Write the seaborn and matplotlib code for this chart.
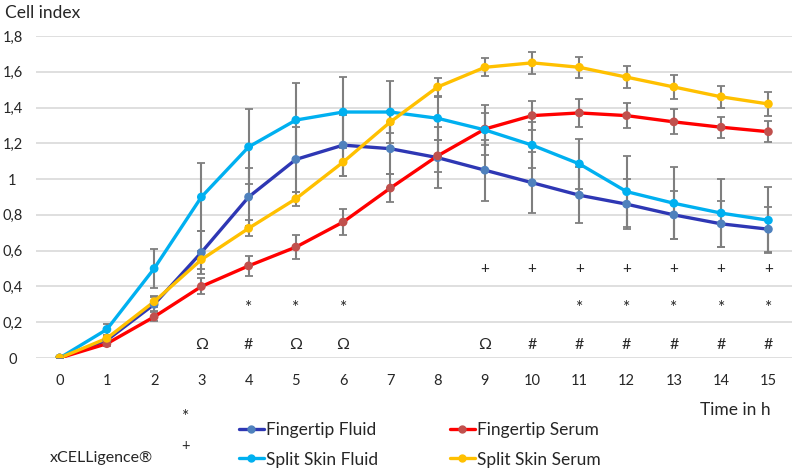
import numpy as np
import pandas as pd
import seaborn as sns
import matplotlib.pyplot as plt
from matplotlib.lines import Line2D

# values
hours = list(range(16))
series_names = ["Fingertip Fluid", "Fingertip Serum", "Split Skin Fluid", "Split Skin Serum"]

fingertip_fluid = [0, 0.10, 0.30, 0.59, 0.90, 1.11, 1.19, 1.17, 1.12, 1.05, 0.98, 0.91, 0.86, 0.80, 0.75, 0.72]
fingertip_serum = [0, 0.08, 0.23, 0.40, 0.515, 0.62, 0.76, 0.95, 1.13, 1.28, 1.355, 1.37, 1.355, 1.32, 1.29, 1.265]
split_skin_fluid = [0, 0.16, 0.50, 0.90, 1.18, 1.33, 1.375, 1.375, 1.34, 1.275, 1.19, 1.085, 0.93, 0.865, 0.81, 0.77]
split_skin_serum = [0, 0.11, 0.315, 0.55, 0.725, 0.89, 1.095, 1.32, 1.515, 1.625, 1.65, 1.625, 1.57, 1.515, 1.46, 1.42]

fingertip_fluid_err = [0, 0.02, 0.04, 0.12, 0.16, 0.18, 0.17, 0.14, 0.17, 0.17, 0.17, 0.155, 0.14, 0.135, 0.13, 0.125]
fingertip_serum_err = [0, 0.015, 0.025, 0.045, 0.055, 0.065, 0.075, 0.08, 0.09, 0.09, 0.08, 0.08, 0.07, 0.07, 0.06, 0.06]
split_skin_fluid_err = [0, 0.03, 0.11, 0.19, 0.21, 0.21, 0.195, 0.175, 0.12, 0.14, 0.13, 0.14, 0.2, 0.2, 0.19, 0.185]
split_skin_serum_err = [0, 0.015, 0.03, 0.05, 0.045, 0.04, 0.08, 0.06, 0.05, 0.05, 0.06, 0.06, 0.06, 0.065, 0.06, 0.065]

line_colors = ["#2E37B4", "#FF0000", "#00B0F0", "#FFC000"]
marker_colors = ["#4F81BD", "#C0504D", "#00B0F0", "#FFC000"]

# significance marks above the x axis
plus_hours = [9, 10, 11, 12, 13, 14, 15]
star_hours = [4, 5, 6, 11, 12, 13, 14, 15]
sym_hours = [3, 4, 5, 6, 9, 10, 11, 12, 13, 14, 15]
sym_labels = ["Ω", "#", "Ω", "Ω", "Ω", "#", "#", "#", "#", "#", "#"]

y_ticks = [0, 0.2, 0.4, 0.6, 0.8, 1.0, 1.2, 1.4, 1.6, 1.8]
y_ticklabels = ["0", "0,2", "0,4", "0,6", "0,8", "1", "1,2", "1,4", "1,6", "1,8"]

values = [fingertip_fluid, fingertip_serum, split_skin_fluid, split_skin_serum]
errors = [fingertip_fluid_err, fingertip_serum_err, split_skin_fluid_err, split_skin_serum_err]

df = pd.DataFrame({
    "hour": hours * 4,
    "index": sum(values, []),
    "err": sum(errors, []),
    "series": [n for n in series_names for _ in hours],
})

sns.set_style("white")
plt.rcParams["font.family"] = ["Lato", "DejaVu Sans"]

fig = plt.figure(figsize=(7.94, 4.71), dpi=100)
ax = fig.add_axes([36 / 794, 113 / 471, 756 / 794, 322 / 471])

# error bars
for name in series_names:
    d = df[df["series"] == name]
    ax.errorbar(d["hour"], d["index"], yerr=d["err"], fmt="none",
                ecolor="#7F7F7F", elinewidth=1.5, capsize=3, capthick=1.3, zorder=2)

sns.lineplot(data=df, x="hour", y="index", hue="series", hue_order=series_names,
             palette=line_colors, linewidth=2.4, legend=False, ax=ax, zorder=3)
sns.scatterplot(data=df, x="hour", y="index", hue="series", hue_order=series_names,
                palette=marker_colors, s=40, linewidth=0, legend=False, ax=ax, zorder=4)

for h in plus_hours:
    ax.text(h, 0.5, "+", ha="center", va="center", fontsize=11)
for h in star_hours:
    ax.text(h, 0.28, "*", ha="center", va="center", fontsize=12.5)
for h, s in zip(sym_hours, sym_labels):
    ax.text(h, 0.075, s, ha="center", va="center", fontsize=11.5)

ax.set_xlim(-0.5, 15.5)
ax.set_ylim(0, 1.8)
ax.set_xticks(hours)
ax.set_xticklabels([str(h) for h in hours], fontsize=10.5)
ax.set_yticks(y_ticks)
ax.set_yticklabels(y_ticklabels, fontsize=10.5, ha="center")
ax.tick_params(axis="y", length=0, pad=17)
ax.tick_params(axis="x", length=0, pad=11.5)
ax.set_xlabel("")
ax.set_ylabel("")
ax.yaxis.grid(True, color="#D9D9D9", linewidth=1.2)
ax.set_axisbelow(True)
sns.despine(ax=ax, left=True, bottom=True)

fig.text(5 / 794, 1 - 13 / 471, "Cell index", fontsize=12.5, va="center", ha="left")
fig.text(771 / 794, 1 - 410 / 471, "Time in h", fontsize=12.5, va="center", ha="right")
fig.text(50 / 794, 1 - 458 / 471, "xCELLigence®", fontsize=11.5, va="center", ha="left")
fig.text(186 / 794, 1 - 417 / 471, "*", fontsize=12.5, va="center", ha="center")
fig.text(186 / 794, 1 - 446 / 471, "+", fontsize=10.5, va="center", ha="center")

handles = [Line2D([], [], color=lc, linewidth=2.4, marker="o", markersize=5,
                  markerfacecolor=mc, markeredgecolor=mc)
           for lc, mc in zip(line_colors, marker_colors)]

leg_kw = dict(frameon=False, fontsize=12.5, handlelength=1.45, handletextpad=0.1,
              labelspacing=0.8, borderpad=0, loc="upper left")
fig.legend([handles[0], handles[2]], [series_names[0], series_names[2]],
           bbox_to_anchor=(230 / 794, 1 - 413 / 471), **leg_kw)
fig.legend([handles[1], handles[3]], [series_names[1], series_names[3]],
           bbox_to_anchor=(441 / 794, 1 - 413 / 471), **leg_kw)

fig.savefig("out.png", dpi=100)
